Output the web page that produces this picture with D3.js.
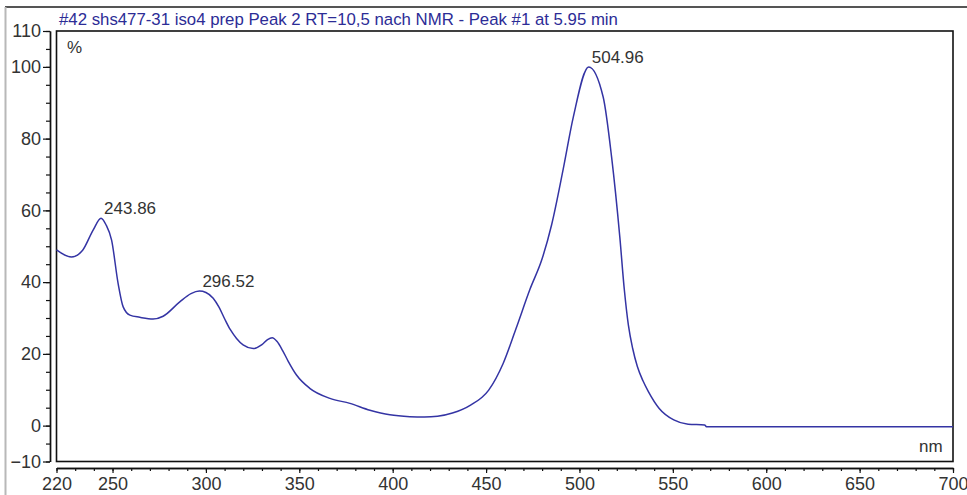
<!DOCTYPE html>
<html>
<head>
<meta charset="utf-8">
<script src="https://cdn.jsdelivr.net/npm/d3@7/dist/d3.min.js"></script>
<style>
  html, body { margin: 0; padding: 0; background: #fff; }
  svg { display: block; font-family: "Liberation Sans", Arial, sans-serif; }
</style>
</head>
<body>
<svg id="chart" width="967" height="495"></svg>
<script>
// ---- data ----
const title = "#42 shs477-31 iso4 prep Peak 2 RT=10,5 nach NMR - Peak #1 at 5.95 min";
const wavelengths = [220, 228, 234, 239.6, 243.86, 246.5, 249.5, 253, 255.7, 259.3, 264.6, 271.7, 277.1, 286, 292, 296.52, 300, 303.9, 307, 310, 313, 316.4, 319.9, 325.3, 330, 333, 335.5, 338, 341, 344, 348.5, 355.6, 366.4, 377.1, 387.8, 398.5, 409.2, 417, 424, 432, 441.7, 451.4, 459.2, 466, 473.5, 480, 485.1, 491.3, 496.7, 504.96, 512.7, 517.2, 521.6, 524, 526.2, 528.5, 531, 534, 536.9, 542.7, 550.5, 558.2, 567, 568, 600, 650, 700];
const absorbance  = [49.0, 47.0, 48.9, 54.5, 57.8, 56.0, 51.7, 39.6, 33.1, 30.8, 30.2, 29.7, 30.5, 34.5, 36.8, 37.5, 37.1, 35.5, 33.0, 29.8, 26.8, 24.3, 22.5, 21.5, 22.6, 24.0, 24.5, 23.5, 21.0, 18.0, 14.1, 10.4, 7.6, 6.2, 4.3, 3.0, 2.5, 2.4, 2.6, 3.5, 5.7, 9.9, 17.4, 27.0, 38.0, 46.5, 56.0, 71.5, 86.0, 100.0, 91.6, 74.9, 52.6, 38.0, 28.0, 21.5, 16.5, 12.5, 9.5, 4.8, 1.6, 0.4, 0.2, -0.3, -0.3, -0.3, -0.3];
const peakWavelengths = [243.86, 296.52, 504.96];
const peakValues = [57.8, 37.5, 100.0];
const peakLabels = ["243.86", "296.52", "504.96"];
const xTickValues = [220, 250, 300, 350, 400, 450, 500, 550, 600, 650, 700];
const xMinorTicks = d3.range(220, 701, 10);
const yTickValues = [110, 100, 80, 60, 40, 20, 0, -10];
const yMinorTicks = d3.range(-10, 111, 5);
const yUnit = "%";
const xUnit = "nm";

// ---- layout ----
const svg = d3.select("#chart");
const plotL = 56.5, plotR = 953, plotT = 31, plotB = 461.5;
const x = d3.scaleLinear().domain([220, 700]).range([plotL, plotR]);
const y = d3.scaleLinear().domain([-10, 110]).range([plotB, plotT]);
const textColor = "#333";
const lineColor = "#3434a4";

// outer frame
svg.append("line").attr("x1", 5).attr("x2", 967).attr("y1", 7).attr("y2", 7)
  .attr("stroke", "#555").attr("stroke-width", 2);
svg.append("line").attr("x1", 5.5).attr("x2", 5.5).attr("y1", 7).attr("y2", 495)
  .attr("stroke", "#b8b8b8").attr("stroke-width", 2);

// title
svg.append("text").attr("x", 59).attr("y", 25)
  .attr("font-size", 16.8).attr("fill", "#2c2c96").text(title);

// plot frame
svg.append("rect").attr("x", plotL).attr("y", plotT)
  .attr("width", plotR - plotL).attr("height", plotB - plotT)
  .attr("fill", "none").attr("stroke", "#111").attr("stroke-width", 1.6);

// y axis (separate line to the left)
const yAxisX = 50;
const yMinor = svg.append("g").attr("transform", `translate(${yAxisX},0)`)
  .call(d3.axisLeft(y).tickValues(yMinorTicks).tickSize(4).tickSizeOuter(0).tickFormat(""));
const yMajor = svg.append("g").attr("transform", `translate(${yAxisX},0)`)
  .call(d3.axisLeft(y).tickValues(yTickValues).tickSize(7).tickSizeOuter(0).tickPadding(2));
[yMinor, yMajor].forEach(g => {
  g.select(".domain").attr("stroke", "#111").attr("stroke-width", 1.4);
  g.selectAll(".tick line").attr("stroke", "#111").attr("stroke-width", 1.2);
});
yMajor.selectAll(".tick text").attr("font-size", 18).attr("fill", textColor)
  .attr("font-family", "Liberation Sans, Arial, sans-serif");

// x axis (separate line below)
const xAxisY = 468;
const xMinor = svg.append("g").attr("transform", `translate(0,${xAxisY})`)
  .call(d3.axisBottom(x).tickValues(xMinorTicks).tickSize(3).tickSizeOuter(0).tickFormat(""));
const xMajor = svg.append("g").attr("transform", `translate(0,${xAxisY})`)
  .call(d3.axisBottom(x).tickValues(xTickValues).tickSize(5).tickSizeOuter(0).tickPadding(4));
[xMinor, xMajor].forEach(g => {
  g.select(".domain").attr("stroke", "#111").attr("stroke-width", 1.4);
  g.selectAll(".tick line").attr("stroke", "#111").attr("stroke-width", 1.2);
});
xMajor.selectAll(".tick text").attr("font-size", 18).attr("fill", textColor)
  .attr("font-family", "Liberation Sans, Arial, sans-serif");

// units
svg.append("text").attr("x", 67).attr("y", 53).attr("font-size", 17).attr("fill", textColor).text(yUnit);
svg.append("text").attr("x", 919).attr("y", 452).attr("font-size", 17).attr("fill", textColor).text(xUnit);

// spectrum line
const pts = wavelengths.map((w, i) => [w, absorbance[i]]);
const line = d3.line().x(d => x(d[0])).y(d => y(d[1])).curve(d3.curveMonotoneX);
svg.append("path").datum(pts).attr("d", line)
  .attr("fill", "none").attr("stroke", lineColor).attr("stroke-width", 1.5);

// peak labels
svg.selectAll(".peak").data(peakWavelengths).enter().append("text")
  .attr("class", "peak")
  .attr("x", (d, i) => x(d) + 3)
  .attr("y", (d, i) => y(peakValues[i]) - 4)
  .attr("font-size", 17).attr("fill", textColor)
  .text((d, i) => peakLabels[i]);
</script>
</body>
</html>
